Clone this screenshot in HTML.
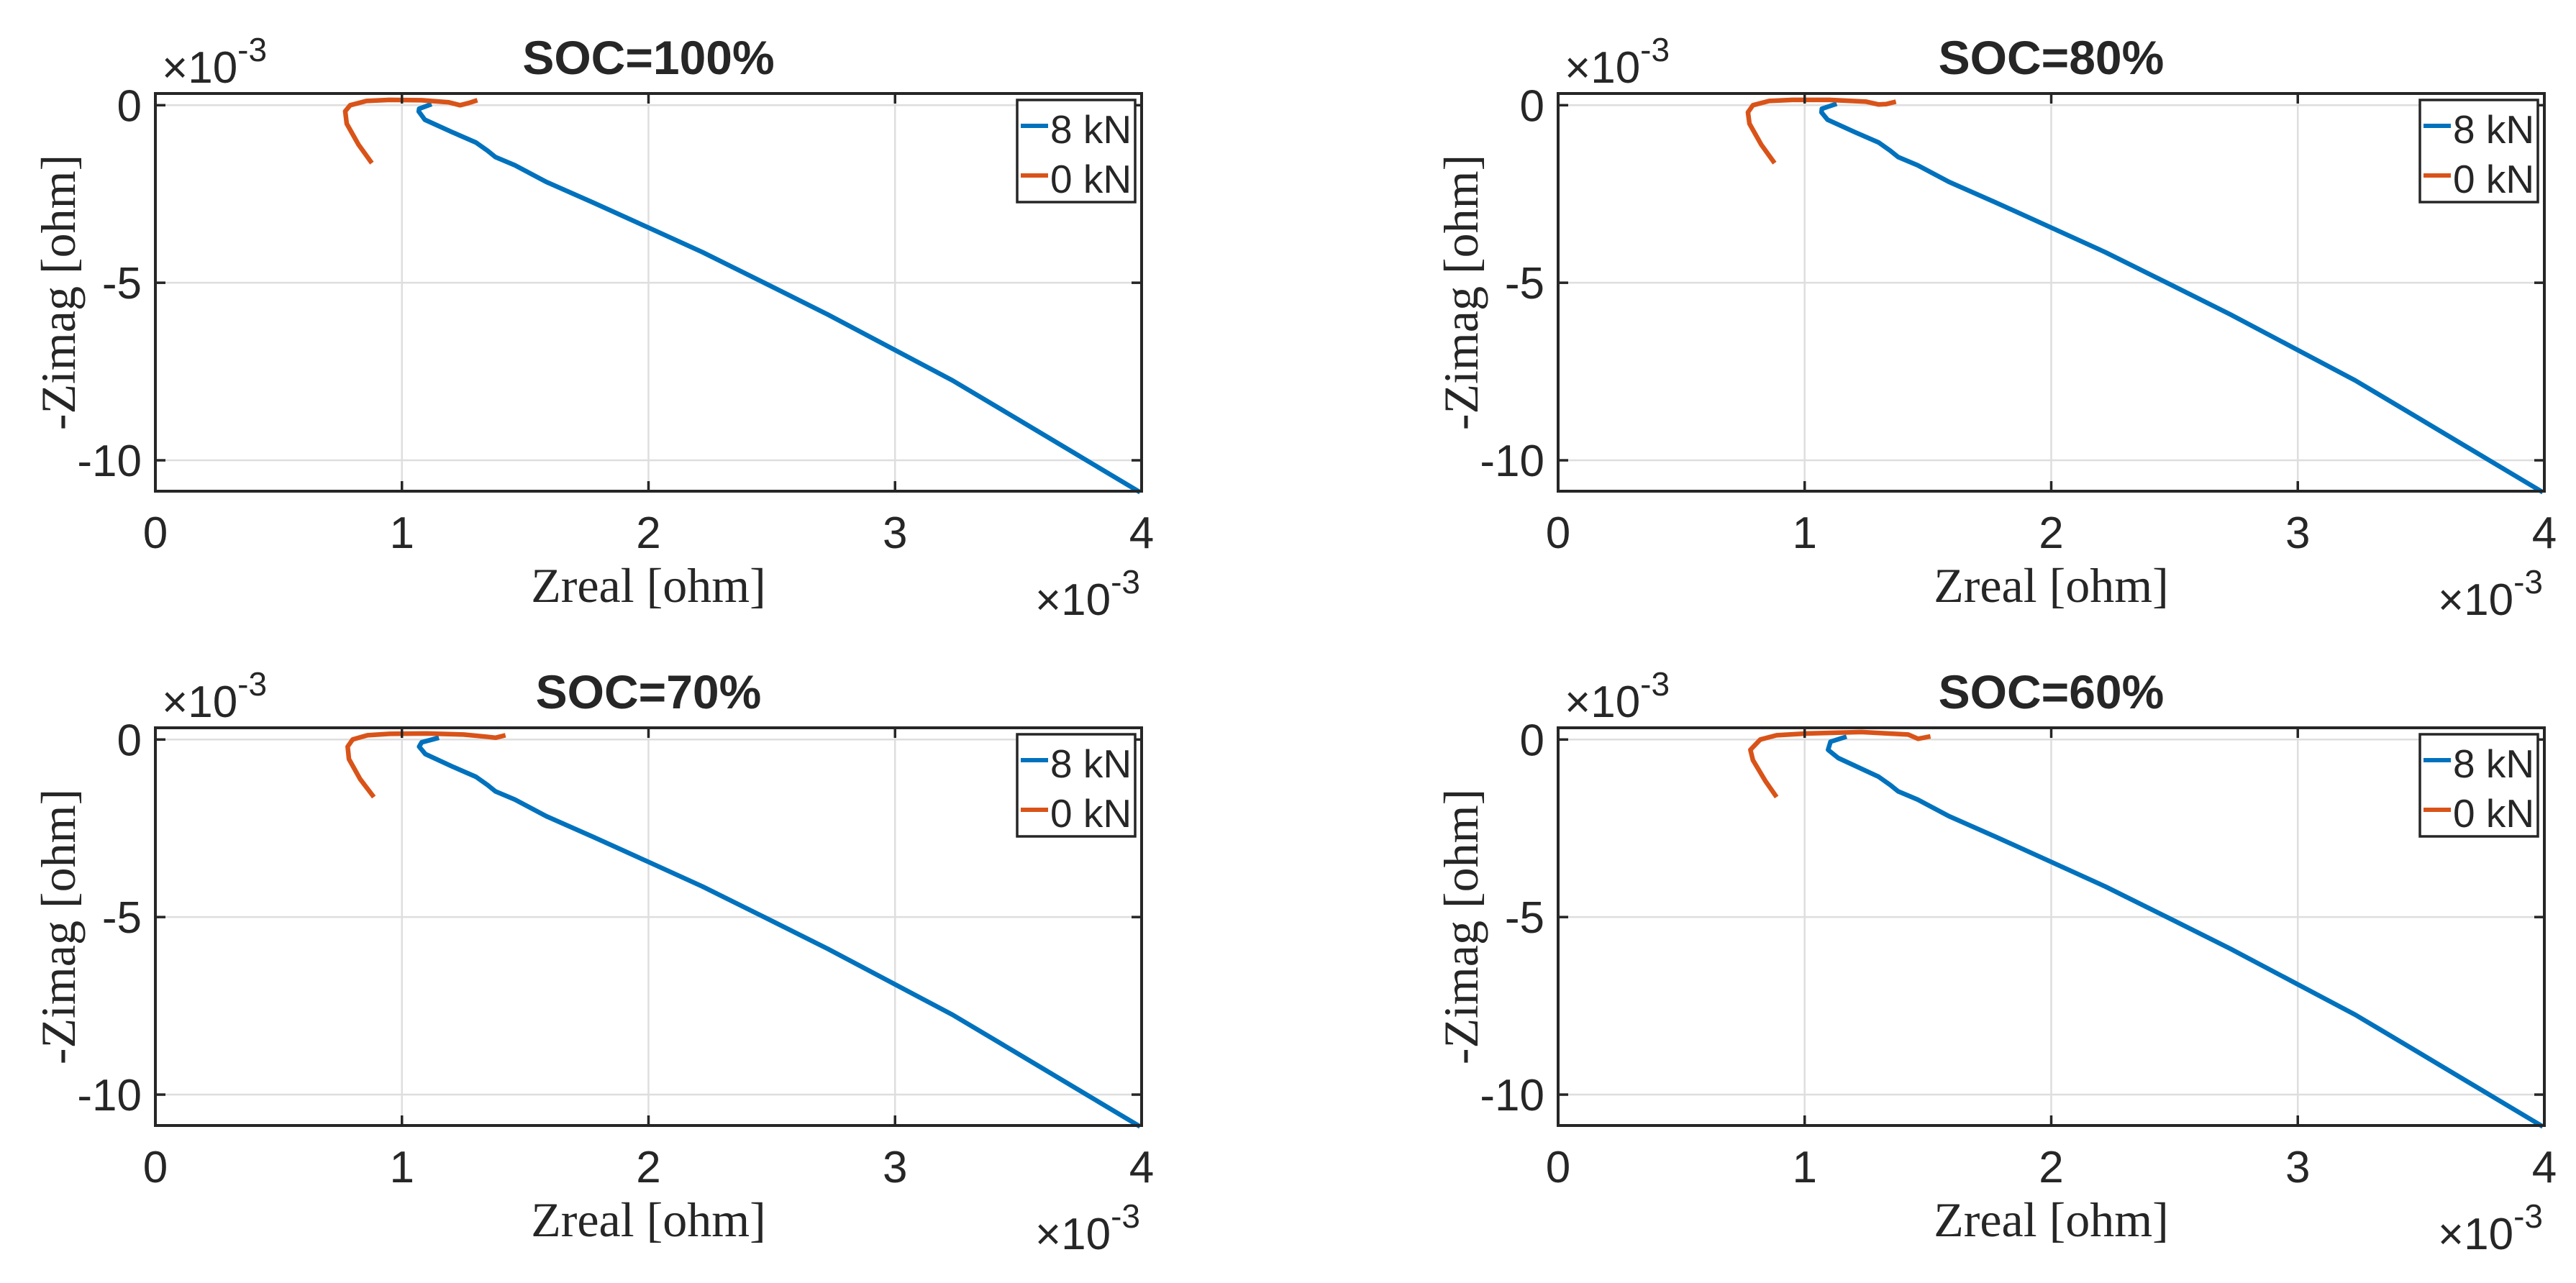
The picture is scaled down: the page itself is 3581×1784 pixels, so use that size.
<!DOCTYPE html>
<html><head><meta charset="utf-8"><style>
html,body{margin:0;padding:0;background:#fff;}
svg{display:block;}
text{font-family:"Liberation Sans",Arial,sans-serif;fill:#262626;}
.serif{font-family:"Liberation Serif","Times New Roman",serif;}
</style></head><body>
<svg id="fig" width="3581" height="1784" viewBox="0 0 3581 1784" xmlns="http://www.w3.org/2000/svg"></svg>
<script>
// ---- data ----
const panelTitles = ["SOC=100%","SOC=80%","SOC=70%","SOC=60%"];
const seriesNames = ["8 kN","0 kN"];
const xTicks = [0,1,2,3,4];
const yTicks = [0,-5,-10];
const xTickLabels = ["0","1","2","3","4"];
const yTickLabels = ["0","-5","-10"];
const blueTailX = [1.204,1.30,1.347,1.379,1.458,1.585,1.775,1.997,2.219,2.472,2.726,2.979,3.233,3.487,3.74,3.994];
const blueTailY = [-0.76,-1.05,-1.28,-1.46,-1.69,-2.16,-2.74,-3.44,-4.14,-5.01,-5.89,-6.82,-7.75,-8.80,-9.85,-10.9];
const blueHeadX100 = [1.12,1.07,1.068,1.093];
const blueHeadY100 = [0.03,-0.1,-0.175,-0.41];
const blueHeadX80 = [1.13,1.07,1.068,1.093];
const blueHeadY80 = [0.04,-0.1,-0.2,-0.41];
const blueHeadX70 = [1.15,1.08,1.07,1.095];
const blueHeadY70 = [0.05,-0.08,-0.2,-0.41];
const blueHeadX60 = [1.17,1.105,1.095,1.136];
const blueHeadY60 = [0.08,-0.06,-0.29,-0.52];
const orangeX100 = [1.306,1.27,1.236,1.19,1.08,0.95,0.856,0.79,0.77,0.776,0.824,0.878];
const orangeY100 = [0.14,0.06,0.0,0.08,0.14,0.15,0.12,0.0,-0.17,-0.52,-1.11,-1.63];
const orangeX80 = [1.37,1.33,1.3,1.25,1.1,0.95,0.856,0.79,0.77,0.776,0.824,0.878];
const orangeY80 = [0.1,0.03,0.02,0.1,0.15,0.15,0.12,0.0,-0.2,-0.52,-1.11,-1.63];
const orangeX70 = [1.42,1.38,1.34,1.25,1.1,0.95,0.86,0.8,0.78,0.785,0.83,0.886];
const orangeY70 = [0.12,0.05,0.08,0.14,0.17,0.16,0.12,0.0,-0.2,-0.55,-1.11,-1.62];
const orangeX60 = [1.51,1.46,1.42,1.23,1.01,0.886,0.82,0.78,0.79,0.84,0.886];
const orangeY60 = [0.09,0.02,0.14,0.21,0.17,0.12,0.0,-0.29,-0.58,-1.16,-1.62];

const blueX = [blueHeadX100.concat(blueTailX), blueHeadX80.concat(blueTailX), blueHeadX70.concat(blueTailX), blueHeadX60.concat(blueTailX.slice(1))];
const blueY = [blueHeadY100.concat(blueTailY), blueHeadY80.concat(blueTailY), blueHeadY70.concat(blueTailY), blueHeadY60.concat(blueTailY.slice(1))];
const orangeX = [orangeX100, orangeX80, orangeX70, orangeX60];
const orangeY = [orangeY100, orangeY80, orangeY70, orangeY60];

// ---- layout ----
const NS = "http://www.w3.org/2000/svg";
const svg = document.getElementById("fig");
const xMin = 0, xMax = 4, yMin = -10.87, yMax = 0.33;
const lefts = [216, 2166], tops = [130, 1012], W = 1371, H = 553;
const COLORS = ["#0072BD", "#D95319"];

function mk(tag, attrs, parent) {
  const e = document.createElementNS(NS, tag);
  for (const k in attrs) e.setAttribute(k, attrs[k]);
  (parent || svg).appendChild(e);
  return e;
}

panelTitles.forEach((title, i) => {
  const L = lefts[i % 2], T = tops[Math.floor(i / 2)], R = L + W, B = T + H;
  const sx = v => L + (v - xMin) / (xMax - xMin) * W;
  const sy = v => T + (yMax - v) / (yMax - yMin) * H;
  const g = mk("g", {});
  
  

  xTicks.forEach(t => {
    const l = mk("line", {x1: sx(t), x2: sx(t), y1: T, y2: B, stroke: "#dedede", "stroke-width": 2.5}, g);
    
    
  });
  yTicks.forEach(t => {
    const l = mk("line", {x1: L, x2: R, y1: sy(t), y2: sy(t), stroke: "#dedede", "stroke-width": 2.5}, g);
    
    
  });

  [[blueX[i], blueY[i]], [orangeX[i], orangeY[i]]].forEach((s, k) => {
    const pts = s[0].map((x, j) => sx(x).toFixed(1) + "," + sy(s[1][j]).toFixed(1)).join(" ");
    const p = mk("polyline", {points: pts, fill: "none", stroke: COLORS[k], "stroke-width": 6.5, "stroke-linejoin": "round"}, g);
    
    
  });

  xTicks.forEach((t, j) => {
    mk("line", {x1: sx(t), x2: sx(t), y1: B, y2: B - 14, stroke: "#262626", "stroke-width": 3.5}, g);
    mk("line", {x1: sx(t), x2: sx(t), y1: T, y2: T + 14, stroke: "#262626", "stroke-width": 3.5}, g);
    const tx = mk("text", {x: sx(t), y: B + 79, "font-size": 62, "text-anchor": "middle"}, g);
    tx.textContent = xTickLabels[j];
    
    
  });
  yTicks.forEach((t, j) => {
    mk("line", {x1: L, x2: L + 14, y1: sy(t), y2: sy(t), stroke: "#262626", "stroke-width": 3.5}, g);
    mk("line", {x1: R, x2: R - 14, y1: sy(t), y2: sy(t), stroke: "#262626", "stroke-width": 3.5}, g);
    const ty = mk("text", {x: L - 19, y: sy(t) + 22, "font-size": 62, "text-anchor": "end"}, g);
    ty.textContent = yTickLabels[j];
    
    
  });

  const box = mk("rect", {x: L, y: T, width: W, height: H, fill: "none", stroke: "#262626", "stroke-width": 4}, g);
  
  

  const tt = mk("text", {x: L + W / 2, y: T - 27, "font-size": 66, "font-weight": "bold", "text-anchor": "middle", fill: "#000"}, g);
  tt.textContent = title;
  
  

  const ey = mk("text", {x: L + 9, y: T - 15, "font-size": 62}, g);
  ey.innerHTML = '×10<tspan dy="-30" font-size="46">-3</tspan>';
  
  
  const ex = mk("text", {x: R - 2, y: B + 172, "font-size": 62, "text-anchor": "end"}, g);
  ex.innerHTML = '×10<tspan dy="-30" font-size="46">-3</tspan>';
  
  

  const xl = mk("text", {x: L + W / 2, y: B + 154, "font-size": 68, "text-anchor": "middle", class: "serif"}, g);
  xl.textContent = "Zreal [ohm]";
  
  
  const yl = mk("text", {x: 0, y: 0, "font-size": 68, "text-anchor": "middle", class: "serif", transform: "translate(" + (L - 112) + "," + (T + H / 2) + ") rotate(-90)"}, g);
  yl.textContent = "-Zimag [ohm]";
  
  

  const lg = mk("g", {}, g);
  
  
  mk("rect", {x: R - 173, y: T + 9, width: 164, height: 142, fill: "#fff", stroke: "#262626", "stroke-width": 3.5}, lg);
  seriesNames.forEach((n, k) => {
    const yy = T + 45 + k * 69;
    const ln = mk("line", {x1: R - 168, x2: R - 130, y1: yy, y2: yy, stroke: COLORS[k], "stroke-width": 6}, lg);
    
    
    const lt = mk("text", {x: R - 127, y: yy + 24, "font-size": 55, fill: "#000"}, lg);
    lt.textContent = n;
    
    
  });
});
</script>
</body></html>
